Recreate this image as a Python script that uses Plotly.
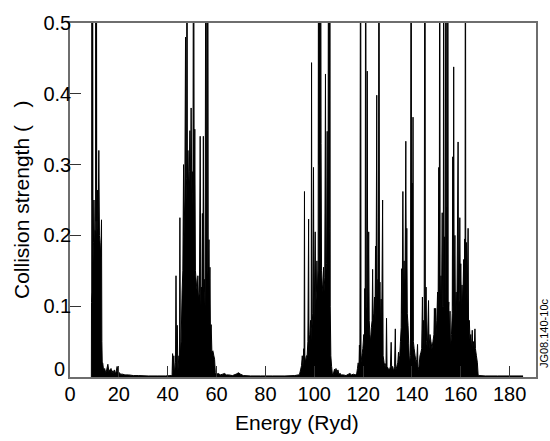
import plotly.graph_objects as go

# (energy in Ryd, collision strength), region by region
band1 = [(8.75, 0.0), (8.8, 0.105), (8.9, 0.12), (9.0, 0.9), (9.12, 0.25), (9.25, 0.9), (9.4, 0.16),
         (9.6, 0.19), (9.8, 0.25), (10.05, 0.18), (10.3, 0.207), (10.5, 0.2), (10.6, 0.9), (10.7, 0.22),
         (10.8, 0.9), (10.95, 0.2), (11.1, 0.21), (11.3, 0.264), (11.55, 0.22), (11.8, 0.32),
         (12.05, 0.2), (12.3, 0.19), (12.6, 0.17), (12.9, 0.222), (13.05, 0.05), (13.2, 0.02)]

tail1 = [(13.4, 0.02), (13.8, 0.008), (14.2, 0.012), (14.6, 0.006), (15.0, 0.01), (15.5, 0.018),
         (15.9, 0.008), (16.3, 0.01), (16.8, 0.012), (17.2, 0.006), (17.6, 0.009), (18.0, 0.005),
         (18.2, 0.01), (18.7, 0.004), (19.3, 0.015), (19.7, 0.005), (20.2, 0.006), (20.8, 0.004),
         (21.5, 0.004), (22.5, 0.003), (24.0, 0.003), (26.0, 0.002), (28.0, 0.002), (32.0, 0.0015),
         (36.0, 0.0015), (39.0, 0.0015), (41.5, 0.002)]

band2 = [(41.8, 0.003), (42.0, 0.033), (42.2, 0.01), (42.5, 0.03), (42.8, 0.005), (43.2, 0.02),
         (43.4, 0.143), (43.6, 0.02), (43.9, 0.073), (44.2, 0.01), (44.6, 0.03), (44.85, 0.02),
         (45.0, 0.225), (45.15, 0.03), (45.5, 0.05), (45.9, 0.12), (46.2, 0.15), (46.5, 0.3),
         (46.7, 0.2), (47.0, 0.25), (47.3, 0.48), (47.5, 0.25), (47.75, 0.28), (47.9, 0.9),
         (48.05, 0.28), (48.3, 0.32), (48.6, 0.26), (48.85, 0.29), (49.1, 0.348), (49.35, 0.27),
         (49.6, 0.38), (49.85, 0.26), (50.1, 0.29), (50.35, 0.24), (50.6, 0.9), (50.85, 0.22),
         (51.1, 0.35), (51.35, 0.15), (51.8, 0.13), (52.1, 0.12), (52.35, 0.143), (52.6, 0.11),
         (53.0, 0.12), (53.3, 0.34), (53.55, 0.1), (53.8, 0.127), (54.0, 0.1), (54.2, 0.231),
         (54.4, 0.12), (54.6, 0.34), (54.8, 0.12), (55.0, 0.138), (55.3, 0.1), (55.7, 0.9),
         (55.9, 0.12), (56.15, 0.15), (56.4, 0.9), (56.6, 0.12), (56.9, 0.194), (57.1, 0.1),
         (57.3, 0.155), (57.5, 0.06), (57.8, 0.074), (58.1, 0.035), (58.5, 0.037), (58.9, 0.03),
         (59.2, 0.025), (59.5, 0.006)]

tail2 = [(60.0, 0.004), (60.8, 0.005), (61.5, 0.003), (62.5, 0.004), (63.3, 0.005), (64.0, 0.003),
         (65.0, 0.003), (66.5, 0.002), (68.0, 0.004), (69.0, 0.006), (69.8, 0.004), (71.0, 0.002),
         (74.0, 0.0015), (78.0, 0.0015), (83.0, 0.0015), (88.0, 0.0015), (92.0, 0.002), (93.5, 0.003)]

band3 = [(94.0, 0.004), (94.4, 0.01), (94.8, 0.016), (95.1, 0.03), (95.4, 0.015), (95.7, 0.04),
         (95.85, 0.025), (96.0, 0.262), (96.15, 0.03), (96.5, 0.02), (96.8, 0.03), (97.1, 0.03),
         (97.4, 0.05), (97.7, 0.223), (97.85, 0.05), (98.2, 0.06), (98.5, 0.08), (98.75, 0.05),
         (98.9, 0.444), (99.05, 0.07), (99.4, 0.09), (99.7, 0.296), (99.9, 0.08), (100.1, 0.12),
         (100.4, 0.205), (100.6, 0.1), (100.9, 0.12), (101.1, 0.164), (101.3, 0.12), (101.6, 0.15),
         (101.8, 0.9), (102.0, 0.3), (102.2, 0.9), (102.4, 0.2), (102.6, 0.9), (102.8, 0.33),
         (103.0, 0.15), (103.3, 0.13), (103.55, 0.12), (103.8, 0.155), (104.0, 0.12), (104.3, 0.14),
         (104.6, 0.428), (104.8, 0.15), (105.05, 0.16), (105.3, 0.347), (105.5, 0.17), (105.7, 0.35),
         (105.9, 0.9), (106.05, 0.2), (106.2, 0.21), (106.4, 0.9), (106.55, 0.1), (106.8, 0.03),
         (107.1, 0.015), (107.4, 0.005)]

tail3 = [(107.8, 0.004), (108.3, 0.011), (108.6, 0.006), (108.9, 0.012), (109.3, 0.006), (109.7, 0.01),
         (110.1, 0.004), (110.6, 0.005), (111.2, 0.003), (112.0, 0.003), (113.0, 0.002), (114.0, 0.004),
         (114.6, 0.005), (115.3, 0.003), (116.0, 0.004), (116.8, 0.003), (117.4, 0.005)]

band4 = [(117.7, 0.012), (118.0, 0.02), (118.3, 0.01), (118.5, 0.045), (118.7, 0.02), (119.0, 0.9),
         (119.15, 0.02), (119.5, 0.03), (119.9, 0.04), (120.3, 0.06), (120.55, 0.05), (120.7, 0.125),
         (120.85, 0.06), (121.1, 0.9), (121.25, 0.08), (121.5, 0.1), (121.7, 0.432), (121.9, 0.1),
         (122.1, 0.12), (122.3, 0.205), (122.5, 0.08), (122.8, 0.06), (123.1, 0.05), (123.4, 0.07),
         (123.7, 0.08), (123.9, 0.152), (124.1, 0.08), (124.4, 0.09), (124.7, 0.113), (124.9, 0.08),
         (125.1, 0.185), (125.3, 0.09), (125.6, 0.398), (125.8, 0.09), (126.1, 0.138), (126.3, 0.09),
         (126.5, 0.9), (126.7, 0.08), (126.9, 0.134), (127.1, 0.07), (127.4, 0.11), (127.6, 0.05),
         (128.0, 0.25), (128.2, 0.03), (128.6, 0.02), (129.0, 0.015), (129.4, 0.02), (129.6, 0.083),
         (129.8, 0.015), (130.3, 0.012), (130.8, 0.01), (131.2, 0.015), (131.5, 0.049), (131.7, 0.01),
         (132.1, 0.015), (132.5, 0.008), (132.9, 0.015), (133.2, 0.068), (133.4, 0.01), (133.8, 0.015),
         (134.2, 0.02), (134.5, 0.035), (134.7, 0.02), (135.0, 0.03), (135.3, 0.05), (135.6, 0.07),
         (135.8, 0.153), (136.0, 0.09), (136.3, 0.262), (136.5, 0.11), (136.8, 0.164), (137.0, 0.12),
         (137.2, 0.14), (137.5, 0.333), (137.7, 0.12), (137.9, 0.21), (138.1, 0.09), (138.4, 0.073),
         (138.7, 0.047), (139.0, 0.02), (139.4, 0.03), (139.7, 0.9), (139.85, 0.05), (140.1, 0.274),
         (140.25, 0.05), (140.45, 0.367), (140.6, 0.05), (140.9, 0.04), (141.3, 0.03), (141.7, 0.02),
         (142.0, 0.025), (142.3, 0.046), (142.5, 0.01), (142.9, 0.015), (143.3, 0.03), (143.7, 0.035),
         (144.0, 0.04), (144.3, 0.113), (144.5, 0.04), (144.8, 0.08), (145.0, 0.04), (145.35, 0.9),
         (145.5, 0.05), (145.8, 0.127), (146.0, 0.05), (146.3, 0.04), (146.8, 0.108), (147.0, 0.04),
         (147.4, 0.06), (147.8, 0.05), (148.2, 0.04), (148.6, 0.05), (149.0, 0.06), (149.2, 0.097),
         (149.4, 0.06), (149.7, 0.097), (149.9, 0.06), (150.2, 0.08), (150.5, 0.12), (150.7, 0.08),
         (151.0, 0.296), (151.2, 0.09), (151.4, 0.9), (151.55, 0.09), (151.9, 0.143), (152.1, 0.09),
         (152.4, 0.232), (152.6, 0.1), (152.85, 0.1), (153.0, 0.9), (153.15, 0.1), (153.4, 0.198),
         (153.6, 0.1), (154.0, 0.9), (154.15, 0.12), (154.4, 0.24), (154.55, 0.11), (154.7, 0.9),
         (154.85, 0.09), (155.1, 0.106), (155.3, 0.06), (155.6, 0.093), (155.8, 0.04), (156.2, 0.06),
         (156.5, 0.09), (156.7, 0.311), (156.9, 0.1), (157.1, 0.438), (157.3, 0.1), (157.6, 0.2),
         (157.8, 0.09), (158.1, 0.12), (158.4, 0.09), (158.9, 0.332), (159.1, 0.1), (159.4, 0.11),
         (159.6, 0.225), (159.8, 0.12), (160.0, 0.16), (160.3, 0.09), (160.5, 0.13), (160.8, 0.1),
         (161.2, 0.166), (161.4, 0.11), (161.6, 0.195), (161.75, 0.11), (161.9, 0.9), (162.05, 0.12),
         (162.3, 0.19), (162.6, 0.1), (163.0, 0.21), (163.2, 0.06), (163.5, 0.08), (163.8, 0.05),
         (164.1, 0.06), (164.4, 0.04), (164.7, 0.066), (164.9, 0.04), (165.2, 0.05), (165.5, 0.04),
         (165.8, 0.068), (166.0, 0.04), (166.4, 0.03), (166.8, 0.02), (167.1, 0.003)]

tail4 = [(167.5, 0.002), (170.0, 0.0015), (175.0, 0.0015), (180.0, 0.0015), (185.5, 0.0015)]

x_ticks = [0, 20, 40, 60, 80, 100, 120, 140, 160, 180]
y_ticks = [0, 0.1, 0.2, 0.3, 0.4, 0.5]
y_tick_text = ["", "0.1", "0.2", "0.3", "0.4", "0.5"]   # the "0" label is raised, drawn below
y_zero_label = "0"

segments = [band1, tail1, band2, tail2, band3, tail3, band4, tail4]
energy = [p[0] for seg in segments for p in seg]
omega = [p[1] for seg in segments for p in seg]

FONT = "Liberation Sans, Arial, Helvetica, sans-serif"

fig = go.Figure()
fig.add_trace(go.Scatter(
    x=energy, y=omega, mode="lines",
    line=dict(color="black", width=1, simplify=False),
    fill="tozeroy", fillcolor="black",
    hoverinfo="skip", showlegend=False,
))

axis_common = dict(
    showline=True, mirror=True, linecolor="#6e6e6e", linewidth=1.5,
    ticks="inside", ticklen=11, tickwidth=1.2, tickcolor="#333333",
    showgrid=False, zeroline=False,
    tickfont=dict(family=FONT, size=20, color="black"),
)

fig.update_xaxes(range=[0, 190.8], tickvals=x_ticks, ticklabelstandoff=-2, **axis_common)
fig.update_yaxes(range=[0, 0.5], tickvals=y_ticks, ticktext=y_tick_text, ticklabelstandoff=-7,
                 **axis_common)

fig.update_layout(
    width=550, height=441,
    margin=dict(l=70, r=12, t=14, b=64),
    paper_bgcolor="white", plot_bgcolor="white",
    font=dict(family=FONT, color="black"),
    annotations=[
        dict(text=y_zero_label, xref="paper", yref="y", x=0, y=y_ticks[0],
             xanchor="right", yanchor="middle", xshift=-3, yshift=8,
             showarrow=False, font=dict(family=FONT, size=20, color="black")),
        dict(text="Energy (Ryd)", xref="paper", yref="paper", x=0.5, y=0,
             xanchor="center", yanchor="middle", xshift=-6, yshift=-45,
             showarrow=False, font=dict(family=FONT, size=21, color="black")),
        dict(text="Collision strength (\u00a0\u00a0\u00a0)", xref="paper", yref="paper", x=0, y=0.5,
             xanchor="center", yanchor="middle", xshift=-49, textangle=-90,
             showarrow=False, font=dict(family=FONT, size=21, color="black")),
        dict(text="JG08.140-10c", xref="paper", yref="paper", x=1, y=0.124,
             xanchor="center", yanchor="middle", xshift=8, textangle=-90,
             showarrow=False, font=dict(family=FONT, size=11, color="black")),
    ],
)

fig.write_html("out.html", config={"displayModeBar": False})
